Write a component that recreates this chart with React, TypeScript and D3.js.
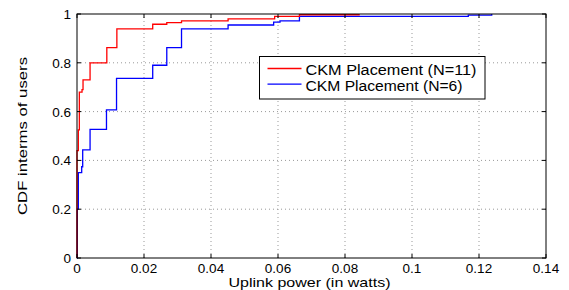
import * as React from 'react';
import * as d3 from 'd3';

// uplink power (watts) where each CDF step starts, and the CDF value after it
const redPower = [0, 0, 0.0004, 0.0007, 0.0015, 0.0018, 0.0039, 0.0089, 0.0119, 0.0226, 0.0268, 0.0312, 0.0451, 0.059, 0.0664, 0.0842];
const redCdf = [0, 0.44, 0.525, 0.68, 0.69, 0.73, 0.8, 0.862, 0.939, 0.958, 0.965, 0.972, 0.98, 0.99, 0.997, 1.0];

const bluePower = [0, 0.0001, 0.0004, 0.0014, 0.0017, 0.0039, 0.0088, 0.0118, 0.0226, 0.0268, 0.0312, 0.0451, 0.0587, 0.0606, 0.0664, 0.1168, 0.1238];
const blueCdf = [0, 0.2, 0.35, 0.374, 0.443, 0.527, 0.607, 0.736, 0.79, 0.862, 0.939, 0.955, 0.967, 0.972, 0.99, 0.995, 1.0];

const seriesNames = ['CKM Placement (N=11)', 'CKM Placement (N=6)'];
const seriesColors = ['#ff0000', '#0000ff'];

const xTicks = [0, 0.02, 0.04, 0.06, 0.08, 0.1, 0.12, 0.14];
const yTicks = [0, 0.2, 0.4, 0.6, 0.8, 1];

const width = 569;
const height = 290;
const margin = { left: 77, right: 23, top: 14, bottom: 32 };
const font = 'Liberation Sans, Arial, Helvetica, sans-serif';

export default function App() {
	const ref = React.useRef<SVGSVGElement>(null);

	React.useEffect(() => {
		const svg = d3.select(ref.current);
		svg.selectAll('*').remove();

		const x = d3.scaleLinear().domain([0, 0.14]).range([margin.left, width - margin.right]);
		const y = d3.scaleLinear().domain([0, 1]).range([height - margin.bottom, margin.top]);
		const [x0, x1] = x.range();
		const [y0, y1] = y.range();

		// dotted grid
		const grid = svg.append('g').attr('stroke', '#999').attr('stroke-width', 1).attr('stroke-dasharray', '1,3');
		xTicks.slice(1, -1).forEach((t) => {
			grid.append('line').attr('x1', x(t)).attr('x2', x(t)).attr('y1', y0).attr('y2', y1);
		});
		yTicks.slice(1, -1).forEach((t) => {
			grid.append('line').attr('y1', y(t)).attr('y2', y(t)).attr('x1', x0).attr('x2', x1);
		});

		// cdf curves
		const line = d3
			.line<[number, number]>()
			.x((d) => x(d[0]))
			.y((d) => y(d[1]))
			.curve(d3.curveStepAfter);
		const series: [number, number][][] = [
			redPower.map((p, i) => [p, redCdf[i]]),
			bluePower.map((p, i) => [p, blueCdf[i]]),
		];
		// draw blue first so red sits on top like the reference
		[1, 0].forEach((i) => {
			svg.append('path')
				.attr('d', line(series[i]))
				.attr('fill', 'none')
				.attr('stroke', seriesColors[i])
				.attr('stroke-width', 1.3);
		});

		// box and inward ticks on all sides
		const axes = svg.append('g').attr('stroke', '#000').attr('stroke-width', 1);
		axes.append('rect').attr('x', x0).attr('y', y1).attr('width', x1 - x0).attr('height', y0 - y1).attr('fill', 'none');
		xTicks.forEach((t) => {
			axes.append('line').attr('x1', x(t)).attr('x2', x(t)).attr('y1', y0).attr('y2', y0 - 4);
			axes.append('line').attr('x1', x(t)).attr('x2', x(t)).attr('y1', y1).attr('y2', y1 + 4);
		});
		yTicks.forEach((t) => {
			axes.append('line').attr('y1', y(t)).attr('y2', y(t)).attr('x1', x0).attr('x2', x0 + 4);
			axes.append('line').attr('y1', y(t)).attr('y2', y(t)).attr('x1', x1).attr('x2', x1 - 4);
		});

		// tick labels
		const labels = svg.append('g').attr('font-family', font).attr('font-size', 13.5).attr('fill', '#000');
		xTicks.forEach((t) => {
			labels.append('text').attr('x', x(t)).attr('y', y0 + 15).attr('text-anchor', 'middle').text(d3.format('~g')(t));
		});
		yTicks.forEach((t) => {
			labels.append('text').attr('x', x0 - 6).attr('y', y(t) + 5).attr('text-anchor', 'end').text(d3.format('~g')(t));
		});

		// axis titles (the reference text is slightly wide, so stretch to its length)
		labels
			.append('text')
			.attr('x', (x0 + x1) / 2 - 2)
			.attr('y', height - 3)
			.attr('text-anchor', 'middle')
			.attr('textLength', 162)
			.attr('lengthAdjust', 'spacingAndGlyphs')
			.text('Uplink power (in watts)');
		labels
			.append('text')
			.attr('transform', `translate(27,${(y0 + y1) / 2}) rotate(-90)`)
			.attr('text-anchor', 'middle')
			.attr('textLength', 158)
			.attr('lengthAdjust', 'spacingAndGlyphs')
			.text('CDF interms of users');

		// legend
		const lg = svg.append('g').attr('transform', 'translate(259.5,56.5)');
		lg.append('rect').attr('width', 225.5).attr('height', 42.5).attr('fill', '#fff').attr('stroke', '#000');
		seriesNames.forEach((name, i) => {
			const ly = 12 + i * 15.7;
			lg.append('line').attr('x1', 8).attr('x2', 42).attr('y1', ly).attr('y2', ly).attr('stroke', seriesColors[i]).attr('stroke-width', 1.3);
			lg.append('text')
				.attr('x', 46)
				.attr('y', ly + 6.5)
				.attr('font-family', font)
				.attr('font-size', 14)
				.attr('textLength', i === 0 ? 171 : 157)
				.attr('lengthAdjust', 'spacingAndGlyphs')
				.text(name);
		});
	}, []);

	return <svg ref={ref} width={width} height={height} style={{ position: 'absolute', left: 0, top: 0, background: '#fff' }} />;
}
